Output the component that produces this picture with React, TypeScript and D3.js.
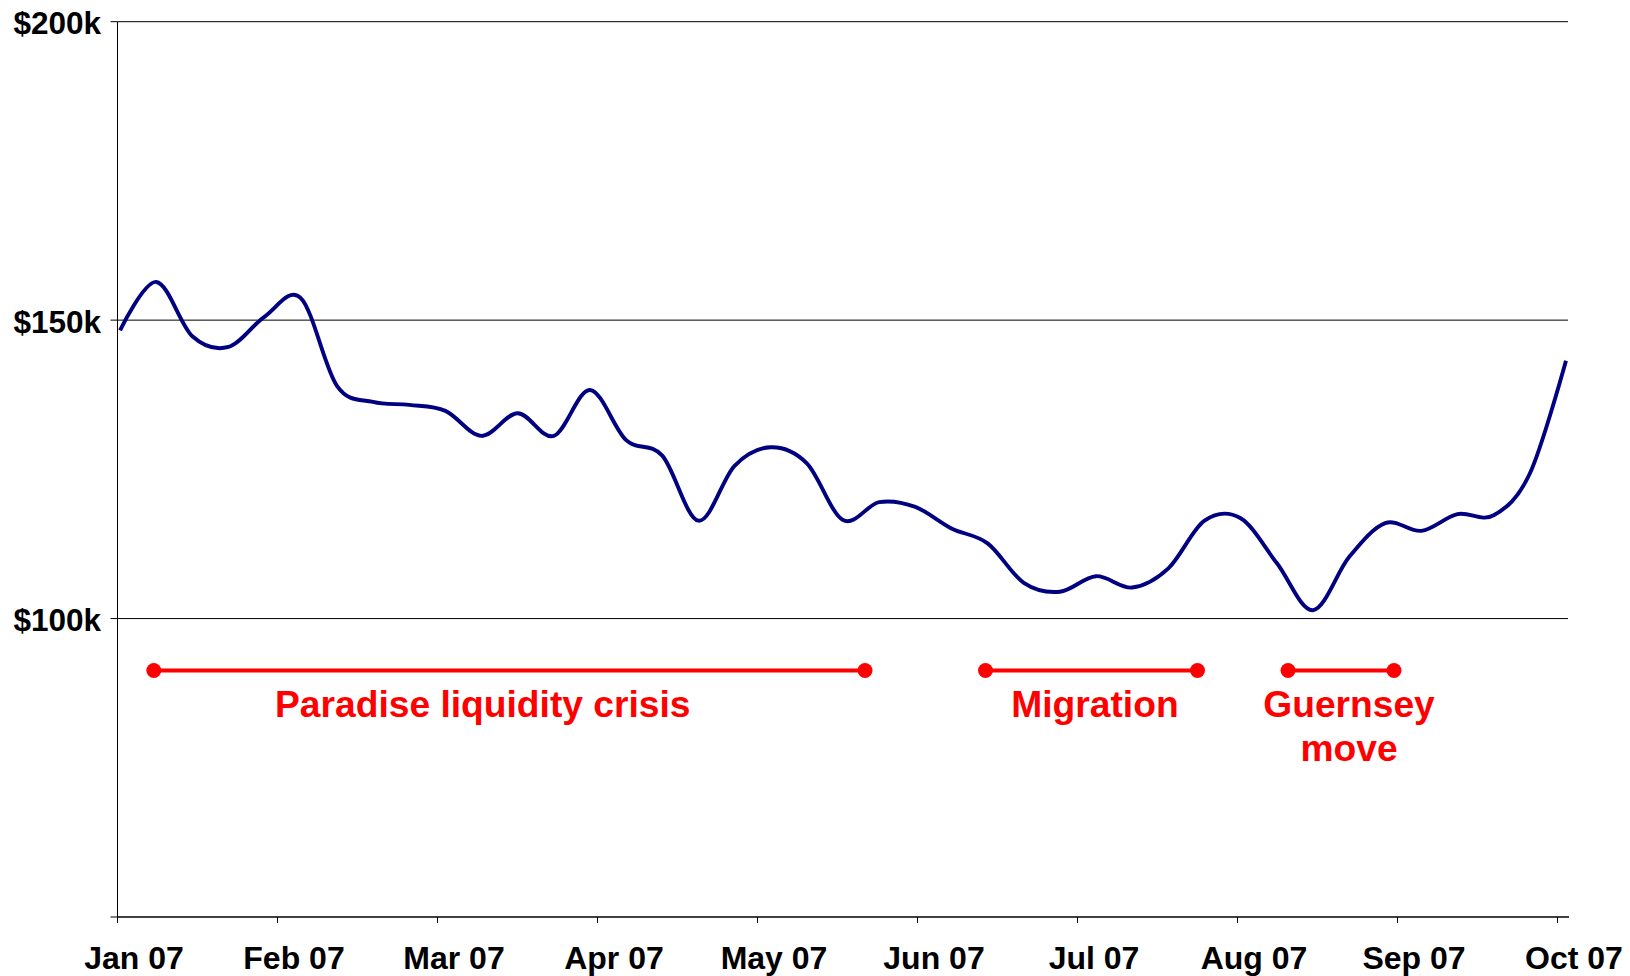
import React from "react";
import * as d3 from "d3";

// Month tick labels (category axis, equal spacing)
const monthLabels = ["Jan 07", "Feb 07", "Mar 07", "Apr 07", "May 07", "Jun 07", "Jul 07", "Aug 07", "Sep 07", "Oct 07"];

// Weekly values in $k (41 weeks)
const weeklyValues = [
  148.3, 156.4, 147.3, 145.5, 150.6, 153.7, 139.0, 136.3, 135.8, 134.8,
  130.6, 134.4, 130.6, 138.3, 129.9, 127.3, 116.4, 125.6, 128.7, 126.0,
  116.5, 119.5, 118.7, 115.1, 112.6, 106.0, 104.5, 107.1, 105.2, 108.4,
  116.4, 116.8, 109.3, 101.4, 110.3, 116.0, 114.7, 117.5, 117.3, 124.3,
  143.2,
];
// position of first and last weekly point, in month units from Jan 07
const firstWeekMonth = 0.016;
const lastWeekMonth = 9.053;

// Y axis
const yTicks = [50, 100, 150, 200];
const yLabelled = [100, 150, 200];

// Annotations
const annotationNames = ["Paradise liquidity crisis", "Migration", "Guernsey\nmove"];
const annotationStart = [0.227, 5.425, 7.316];
const annotationEnd = [4.672, 6.75, 7.978];
const annotationTextCenter = [2.283, 6.109, 7.697];
const annotationLevel = 91.3; // $k
const annotationTextLevel = 83.5; // $k

const W = 1630;
const H = 976;

export default function App() {
  const x = d3.scaleLinear().domain([0, 9]).range([117.5, 1557.5]);
  const y = d3.scaleLinear().domain([50, 200]).range([917, 21.7]);
  const xWeek = d3
    .scaleLinear()
    .domain([0, weeklyValues.length - 1])
    .range([x(firstWeekMonth), x(lastWeekMonth)]);

  const line = d3
    .line<number>()
    .x((_, i) => xWeek(i))
    .y((d) => y(d))
    .curve(d3.curveCardinal.tension(0));

  const font = "'Liberation Sans', Arial, Helvetica, sans-serif";
  const plotRight = 1568;
  const lineStep = y(annotationTextLevel) - y(annotationTextLevel + 7.4);

  return (
    <svg
      width={W}
      height={H}
      style={{ position: "absolute", left: 0, top: 0, background: "#fff" }}
      fontFamily={font}
      fontWeight="bold"
    >
      {/* gridlines */}
      {yLabelled.map((v) => (
        <line key={"g" + v} x1={x(0)} x2={plotRight} y1={y(v)} y2={y(v)} stroke="#000" strokeWidth={1} />
      ))}
      {/* y ticks */}
      {yTicks.map((v) => (
        <line key={"yt" + v} x1={x(0) - 7} x2={x(0)} y1={y(v)} y2={y(v)} stroke="#000" strokeWidth={1} />
      ))}
      {/* y labels */}
      {yLabelled.map((v) => (
        <text key={"yl" + v} x={101} y={y(v) + 12.5} textAnchor="end" fontSize={31.5} fill="#000">
          {"$" + v + "k"}
        </text>
      ))}
      {/* axes */}
      <line x1={x(0)} x2={x(0)} y1={y(200)} y2={y(50) + 6} stroke="#000" strokeWidth={1} />
      <line x1={x(0)} x2={plotRight + 1} y1={y(50)} y2={y(50)} stroke="#000" strokeWidth={1.3} />
      {/* x ticks and labels */}
      {monthLabels.map((m, i) => (
        <g key={m}>
          <line x1={x(i)} x2={x(i)} y1={y(50)} y2={y(50) + 6} stroke="#000" strokeWidth={1} />
          <text x={x(i) + 16.5} y={969} textAnchor="middle" fontSize={32} fill="#000">
            {m}
          </text>
        </g>
      ))}
      {/* data line */}
      <path d={line(weeklyValues) || ""} fill="none" stroke="#000080" strokeWidth={3.9} strokeLinejoin="round" />
      {/* annotations */}
      {annotationNames.map((name, i) => (
        <g key={name}>
          <line
            x1={x(annotationStart[i])}
            x2={x(annotationEnd[i])}
            y1={y(annotationLevel)}
            y2={y(annotationLevel)}
            stroke="#ff0000"
            strokeWidth={4}
          />
          <circle cx={x(annotationStart[i])} cy={y(annotationLevel)} r={7.5} fill="#ff0000" />
          <circle cx={x(annotationEnd[i])} cy={y(annotationLevel)} r={7.5} fill="#ff0000" />
          {name.split("\n").map((t, j) => (
            <text
              key={t}
              x={x(annotationTextCenter[i])}
              y={y(annotationTextLevel) + j * lineStep}
              textAnchor="middle"
              fontSize={37.2}
              fill="#ff0000"
            >
              {t}
            </text>
          ))}
        </g>
      ))}
    </svg>
  );
}
